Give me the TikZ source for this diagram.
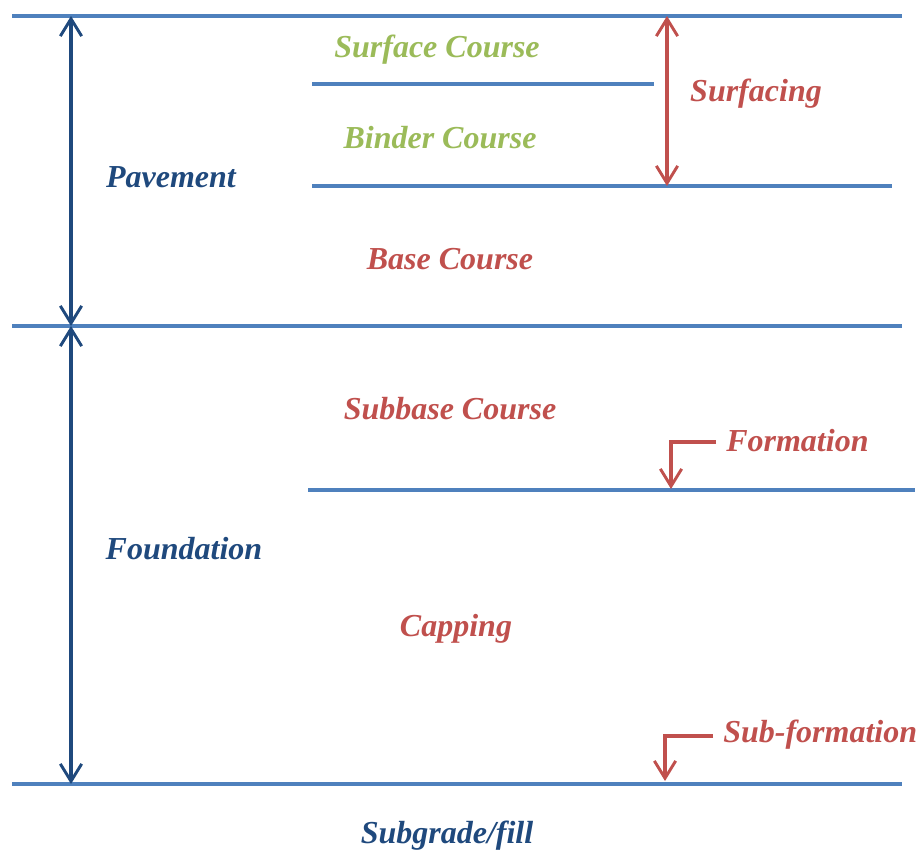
\documentclass[tikz,border=0pt]{standalone}
\usepackage{fontspec}
\setmainfont{Liberation Serif}
\usetikzlibrary{arrows.meta}
\definecolor{lineblue}{HTML}{4F81BD}
\definecolor{darkblue}{HTML}{1F497D}
\definecolor{redc}{HTML}{C0504D}
\definecolor{greenc}{HTML}{9BBB59}
\tikzset{
  layer/.style={draw=lineblue, line width=3pt},
  lbl/.style={font=\fontsize{24}{28}\selectfont\bfseries\itshape, inner sep=0pt},
  dimarrow/.style={line width=2.4pt, {Straight Barb[length=13pt,width=16pt,line width=2.2pt]}-{Straight Barb[length=13pt,width=16pt,line width=2.2pt]}},
  hookarrow/.style={draw=redc, line width=2.4pt, -{Straight Barb[length=13pt,width=16pt,line width=2.2pt]}}
}
\begin{document}
\begin{tikzpicture}[x=0.75pt,y=-0.75pt]
\useasboundingbox (0,0) rectangle (919,854);
% layer lines
\coordinate (t1) at (12,16);  \coordinate (t2) at (902,16);
\coordinate (s1) at (312,84); \coordinate (s2) at (654,84);
\coordinate (b1) at (312,186); \coordinate (b2) at (892,186);
\coordinate (m1) at (12,326); \coordinate (m2) at (902,326);
\coordinate (f1) at (308,490); \coordinate (f2) at (915,490);
\coordinate (g1) at (12,784); \coordinate (g2) at (902,784);
\draw[layer] (t1) -- (t2);
\draw[layer] (s1) -- (s2);
\draw[layer] (b1) -- (b2);
\draw[layer] (m1) -- (m2);
\draw[layer] (f1) -- (f2);
\draw[layer] (g1) -- (g2);
% dimension arrows
\coordinate (pa) at (71,16); \coordinate (pb) at (71,326); \coordinate (pc) at (71,784);
\draw[dimarrow, darkblue] (pa) -- (pb);
\draw[dimarrow, darkblue] (pb) -- (pc);
\coordinate (sa) at (667,16); \coordinate (sb) at (667,186);
\draw[dimarrow, redc] (sa) -- (sb);
% labels
\node[lbl, text=greenc] (surf) at (437,50) {Surface Course};
\node[lbl, text=greenc] (bind) at (440,138) {Binder Course};
\node[lbl, text=redc] (surfacing) at (756,94) {Surfacing};
\node[lbl, text=darkblue] (pave) at (171,177) {Pavement};
\node[lbl, text=redc] (base) at (450,259) {Base Course};
\node[lbl, text=redc] (subbase) at (450,409) {Subbase Course};
\node[lbl, text=redc, anchor=west] (form) at (726,441) {Formation};
\node[lbl, text=darkblue] (found) at (184,549) {Foundation};
\node[lbl, text=redc] (cap) at (456,629) {Capping};
\node[lbl, text=redc, anchor=west] (subform) at (723,735) {Sub-formation};
\node[lbl, text=darkblue] (subg) at (447,836) {Subgrade/fill};
% hook arrows
\coordinate (fh) at (716,442); \coordinate (fc) at (671,442); \coordinate (fe) at (671,489);
\draw[hookarrow] (fh) -- (fc) -- (fe);
\coordinate (sh) at (713,736); \coordinate (sc) at (665,736); \coordinate (se) at (665,781);
\draw[hookarrow] (sh) -- (sc) -- (se);
\end{tikzpicture}
\end{document}
